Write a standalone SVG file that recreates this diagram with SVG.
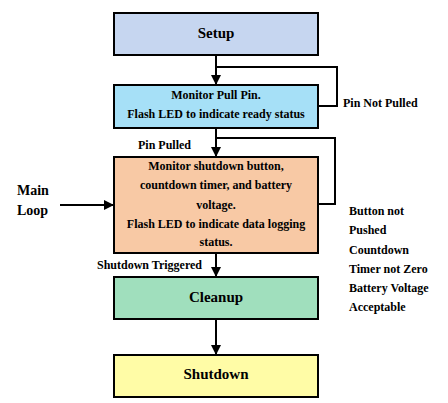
<svg xmlns="http://www.w3.org/2000/svg" width="448" height="403" viewBox="0 0 448 403">
<style>
.box{stroke:#000;stroke-width:2}
.t{font-family:"Liberation Serif","Times New Roman",serif;font-weight:bold;fill:#000}
.big{font-size:15px}
.sm{font-size:12px}
.c{text-anchor:middle}
.ln{fill:none;stroke:#000;stroke-width:2}
</style>
<defs>
<marker id="ah" markerUnits="userSpaceOnUse" markerWidth="10" markerHeight="10" refX="10" refY="5" orient="auto">
<path d="M0,0 L10,5 L0,10 z" fill="#000"/>
</marker>
</defs>
<rect width="448" height="403" fill="#fff"/>
<g id="connectors">
<line class="ln" x1="216" y1="55" x2="216" y2="85" marker-end="url(#ah)"/>
<polyline class="ln" points="216,67 337,67 337,106 318,106"/>
<line class="ln" x1="216" y1="128" x2="216" y2="157" marker-end="url(#ah)"/>
<polyline class="ln" points="216,138 335,138 335,204 318,204"/>
<line class="ln" x1="60" y1="205" x2="114" y2="205" marker-end="url(#ah)"/>
<line class="ln" x1="216" y1="253" x2="216" y2="277" marker-end="url(#ah)"/>
<line class="ln" x1="216" y1="319" x2="216" y2="355" marker-end="url(#ah)"/>
<text class="t sm" x="343" y="107">Pin Not Pulled</text>
<text class="t sm" x="138" y="149">Pin Pulled</text>
<text class="t sm" x="97" y="269">Shutdown Triggered</text>
<text class="t" font-size="14" x="17" y="195">Main</text>
<text class="t" font-size="14" x="17" y="215">Loop</text>
<text class="t sm" x="349" y="215">Button not</text>
<text class="t sm" x="349" y="234">Pushed</text>
<text class="t sm" x="349" y="254">Countdown</text>
<text class="t sm" x="349" y="273">Timer not Zero</text>
<text class="t sm" x="349" y="292">Battery Voltage</text>
<text class="t sm" x="349" y="311">Acceptable</text>
</g>
<g id="setup">
<rect class="box" x="114" y="13" width="204" height="42" fill="#c6d6f0"/>
<text class="t big c" x="216" y="38">Setup</text>
</g>
<g id="monitor-pin">
<rect class="box" x="114" y="85" width="204" height="43" fill="#a6e0f7"/>
<text class="t sm c" x="216" y="99">Monitor Pull Pin.</text>
<text class="t sm c" x="216" y="118">Flash LED  to indicate  ready status</text>
</g>
<g id="main-loop">
<rect class="box" x="114" y="157" width="204" height="96" fill="#f8c9a5"/>
<text class="t sm c" x="216" y="170">Monitor shutdown button,</text>
<text class="t sm c" x="216" y="189">countdown timer,  and battery</text>
<text class="t sm c" x="216" y="209">voltage.</text>
<text class="t sm c" x="216" y="228">Flash LED  to indicate  data logging</text>
<text class="t sm c" x="216" y="246">status.</text>
</g>
<g id="cleanup">
<rect class="box" x="114" y="277" width="204" height="42" fill="#a0dfbd"/>
<text class="t big c" x="216" y="302">Cleanup</text>
</g>
<g id="shutdown">
<rect class="box" x="114" y="355" width="204" height="42" fill="#fffca6"/>
<text class="t big c" x="216" y="379">Shutdown</text>
</g>
</svg>
